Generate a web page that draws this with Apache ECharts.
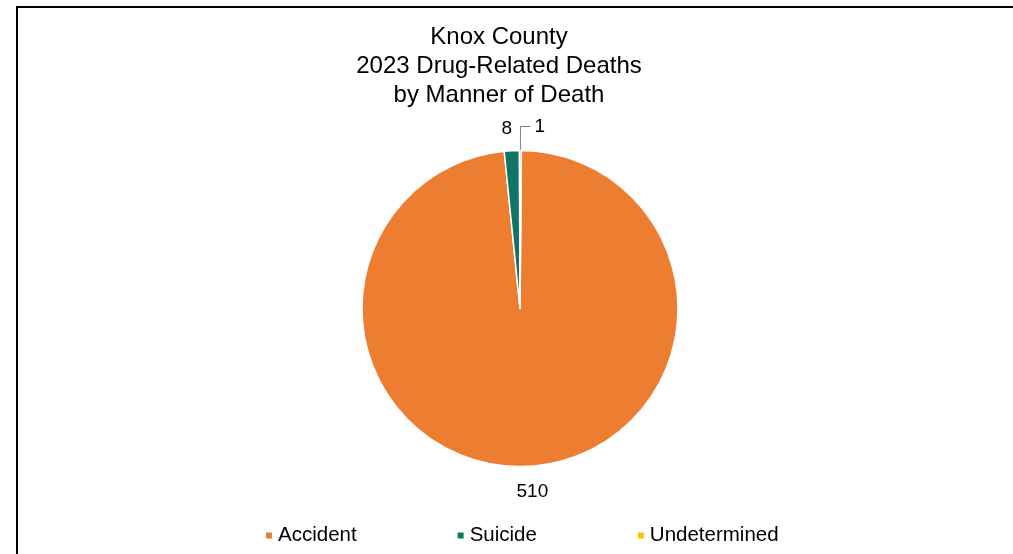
<!DOCTYPE html>
<html>
<head>
<meta charset="utf-8">
<script src="https://cdn.jsdelivr.net/npm/echarts@6/dist/echarts.min.js"></script>
<style>
html,body{margin:0;padding:0;background:#fff;}
#chart{width:1013px;height:554px;}
</style>
</head>
<body>
<div id="chart"></div>
<script>
var titleLines = ['Knox County', '2023 Drug-Related Deaths', 'by Manner of Death'];
var categories = ['Accident', 'Suicide', 'Undetermined'];
var values = [510, 8, 1];
var colors = ['#ED7D31', '#117565', '#FFC000'];
var labelLineLengths = [25, 22, 24];
var labelLineLengths2 = [0, 0, 10];
var labelLineShown = [false, false, true];

var chart = echarts.init(document.getElementById('chart'), null, {renderer: 'canvas'});

var pieData = categories.map(function (name, i) {
  return {
    name: name,
    value: values[i],
    itemStyle: {color: colors[i]},
    labelLine: {show: labelLineShown[i], length: labelLineLengths[i], length2: labelLineLengths2[i]}
  };
});

var font = '"Liberation Sans", Arial, sans-serif';

chart.setOption({
  backgroundColor: '#ffffff',
  animation: false,
  graphic: [{
    type: 'polyline',
    shape: {points: [[17, 560], [17, 7], [1020, 7]]},
    style: {stroke: '#000', lineWidth: 2, fill: null}
  }],
  title: {
    text: titleLines.join('\n'),
    left: 494,
    textAlign: 'center',
    top: 18,
    textStyle: {fontFamily: font, fontSize: 24, fontWeight: 'normal', color: '#000', lineHeight: 29}
  },
  legend: {
    data: categories,
    left: 259,
    top: 520,
    icon: 'rect',
    itemWidth: 8,
    itemHeight: 8,
    itemGap: 99,
    textStyle: {fontFamily: font, fontSize: 20.5, color: '#000'}
  },
  series: [{
    type: 'pie',
    center: [520, 308.5],
    radius: [0, 158],
    startAngle: 89.5,
    clockwise: true,
    avoidLabelOverlap: false,
    itemStyle: {borderColor: '#fff', borderWidth: 1.5},
    label: {
      show: true,
      position: 'outside',
      formatter: '{c}',
      fontFamily: font,
      fontSize: 19,
      color: '#000',
      distanceToLabelLine: 4
    },
    labelLine: {lineStyle: {color: '#7f7f7f', width: 1}},
    labelLayout: function (p) {
      if (p.dataIndex === 0 || p.dataIndex === 1) {
        return {align: 'center'};
      }
      return {};
    },
    emphasis: {disabled: true},
    data: pieData
  }]
});
</script>
</body>
</html>
